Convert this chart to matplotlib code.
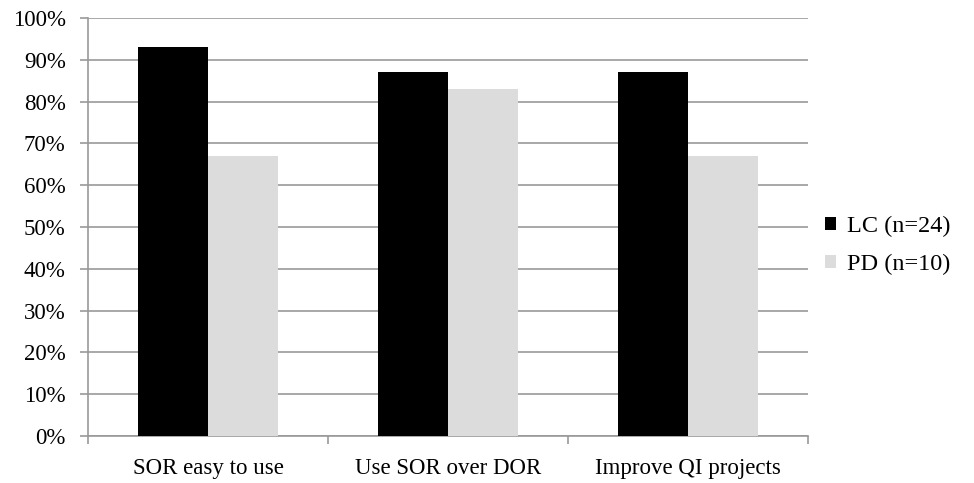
import numpy as np
import matplotlib.pyplot as plt
from matplotlib.ticker import PercentFormatter

plt.rcParams.update({
    'font.family': ['Liberation Serif', 'DejaVu Serif'],
    'font.size': 16.5,
})

categories = ['SOR easy to use', 'Use SOR over DOR', 'Improve QI projects']
series_names = ['LC (n=24)', 'PD (n=10)']
lc_values = [93, 87, 87]
pd_values = [67, 83, 67]
colors = ['#000000', '#dcdcdc']

fig = plt.figure(figsize=(9.74, 4.83), dpi=100)
ax = fig.add_axes([0.0903, 0.0973, 0.7393, 0.8654])

x = np.arange(len(categories))
w = 0.29
ax.bar(x - w / 2, lc_values, w, color=colors[0], label=series_names[0], zorder=3)
ax.bar(x + w / 2, pd_values, w, color=colors[1], label=series_names[1], zorder=3)

ax.set_xlim(-0.5, len(categories) - 0.5)
ax.set_ylim(0, 100)
ax.set_yticks(np.arange(0, 101, 10))
ax.yaxis.set_major_formatter(PercentFormatter(decimals=0))
ax.set_xticks(x)
ax.set_xticklabels(categories)
ax.tick_params(axis='x', length=0, pad=16)
ax.set_xticks(np.arange(-0.5, len(categories) + 0.5, 1), minor=True)
ax.tick_params(axis='x', which='minor', length=6, color='#999999', width=1.2)
ax.tick_params(axis='y', length=6, color='#999999', width=1.2, pad=10)

ax.grid(axis='y', color='#999999', linewidth=1.2, zorder=0)
ax.set_axisbelow(True)
for s in ['top', 'right']:
    ax.spines[s].set_visible(False)
for s in ['left', 'bottom']:
    ax.spines[s].set_color('#999999')
    ax.spines[s].set_linewidth(1.2)

ax.legend(loc='center left', bbox_to_anchor=(1.0, 0.455), frameon=False,
          fontsize=17.5, handlelength=0.45, handleheight=0.45, handletextpad=0.45,
          labelspacing=0.7, borderaxespad=0.3)

fig.savefig('out.png', dpi=100)
